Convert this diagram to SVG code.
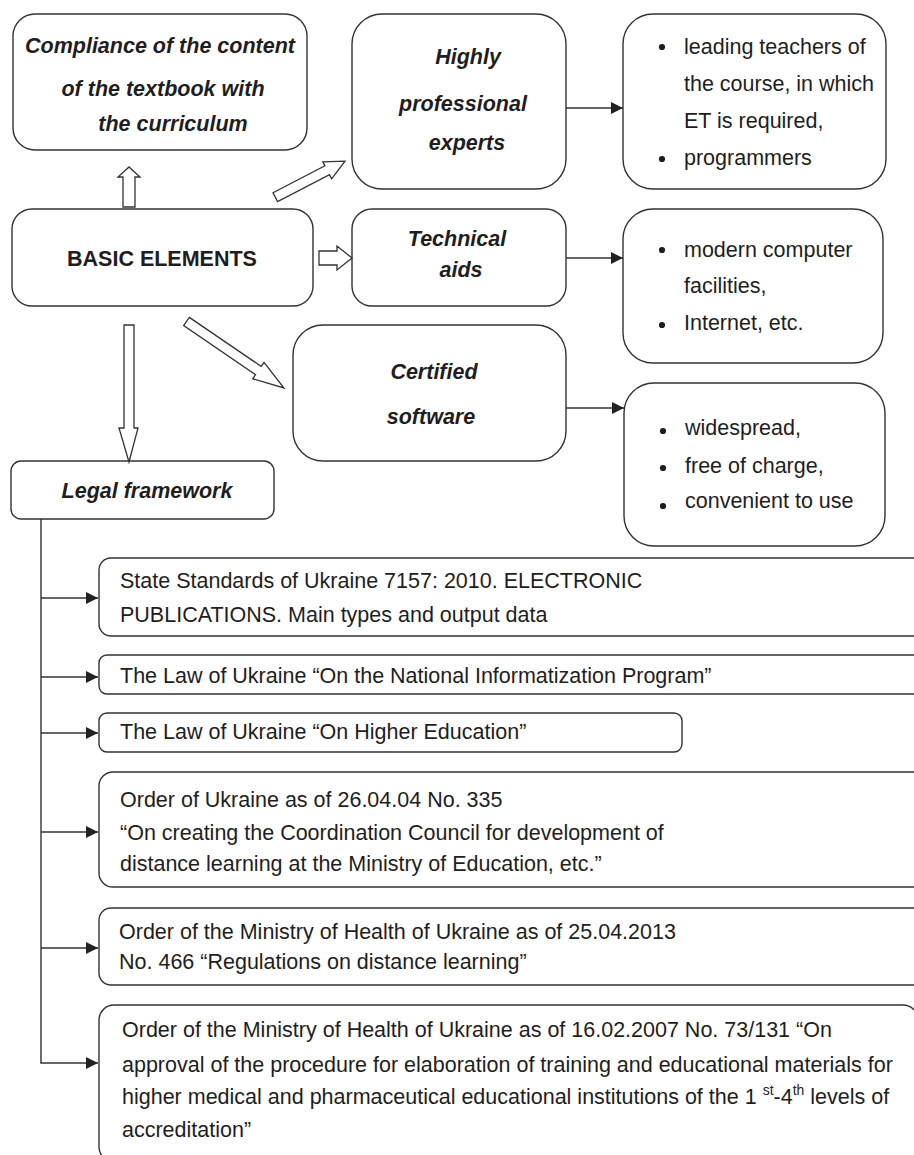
<svg xmlns="http://www.w3.org/2000/svg" width="914" height="1155" viewBox="0 0 914 1155">
<defs>
<style>
.box{fill:#fff;stroke:#333;stroke-width:1.4}
.t{font-family:"Liberation Sans",Arial,sans-serif;font-size:21.5px;fill:#1e1e1e}
.bi{font-weight:bold;font-style:italic}
.b{font-weight:bold}
.c{text-anchor:middle}
.blk{fill:#fff;stroke:#333;stroke-width:1.3;stroke-linejoin:miter}
.ln{fill:none;stroke:#333;stroke-width:1.4}
.dot{fill:#1e1e1e}
</style>
<marker id="ah" viewBox="0 0 12 12" refX="12" refY="6" markerWidth="12" markerHeight="12" markerUnits="userSpaceOnUse" orient="auto">
<path d="M0,0 L12,6 L0,12 Z" fill="#222"/>
</marker>
</defs>
<rect width="914" height="1155" fill="#fff"/>

<g id="compliance">
<rect class="box" x="13" y="14" width="294" height="136" rx="22"/>
<text class="t bi c" x="160" y="53">Compliance of the content</text>
<text class="t bi c" x="163" y="96">of the textbook with</text>
<text class="t bi c" x="173" y="131">the curriculum</text>
</g>

<g id="experts">
<rect class="box" x="352" y="14" width="214" height="175" rx="30"/>
<text class="t bi c" x="468" y="64">Highly</text>
<text class="t bi c" x="463" y="111">professional</text>
<text class="t bi c" x="467" y="150">experts</text>
</g>

<g id="experts-list">
<rect class="box" x="623" y="14" width="263" height="175" rx="30"/>
<circle class="dot" cx="662" cy="47" r="3.1"/>
<text class="t" x="684" y="54">leading teachers of</text>
<text class="t" x="684" y="91">the course, in which</text>
<text class="t" x="684" y="128">ET is required,</text>
<circle class="dot" cx="662" cy="159" r="3.1"/>
<text class="t" x="684" y="165">programmers</text>
</g>

<g id="basic">
<rect class="box" x="12" y="209" width="301" height="97" rx="20"/>
<text class="t b c" x="162" y="266">BASIC ELEMENTS</text>
</g>

<g id="technical">
<rect class="box" x="352" y="209" width="214" height="97" rx="20"/>
<text class="t bi c" x="457" y="246">Technical</text>
<text class="t bi c" x="461" y="277">aids</text>
</g>

<g id="technical-list">
<rect class="box" x="623" y="209" width="260" height="154" rx="30"/>
<circle class="dot" cx="662" cy="250" r="3.1"/>
<text class="t" x="684" y="257">modern computer</text>
<text class="t" x="684" y="293">facilities,</text>
<circle class="dot" cx="662" cy="325" r="3.1"/>
<text class="t" x="684" y="330">Internet, etc.</text>
</g>

<g id="software">
<rect class="box" x="293" y="325" width="273" height="136" rx="30"/>
<text class="t bi c" x="434" y="379">Certified</text>
<text class="t bi c" x="431" y="424">software</text>
</g>

<g id="software-list">
<rect class="box" x="624" y="383" width="261" height="163" rx="30"/>
<circle class="dot" cx="663" cy="431" r="3.1"/>
<text class="t" x="685" y="435">widespread,</text>
<circle class="dot" cx="663" cy="468" r="3.1"/>
<text class="t" x="685" y="473">free of charge,</text>
<circle class="dot" cx="663" cy="506" r="3.1"/>
<text class="t" x="685" y="508">convenient to use</text>
</g>

<g id="legal">
<rect class="box" x="11" y="461" width="263" height="58" rx="10"/>
<text class="t bi c" x="147" y="498">Legal framework</text>
</g>

<g id="doc1">
<rect class="box" x="99" y="558" width="860" height="78" rx="12"/>
<text class="t" x="120" y="588">State Standards of Ukraine 7157: 2010. ELECTRONIC</text>
<text class="t" x="120" y="622">PUBLICATIONS. Main types and output data</text>
</g>

<g id="doc2">
<rect class="box" x="99" y="655" width="860" height="39" rx="8"/>
<text class="t" x="120" y="683">The Law of Ukraine “On the National Informatization Program”</text>
</g>

<g id="doc3">
<rect class="box" x="99" y="713" width="583" height="39" rx="8"/>
<text class="t" x="120" y="739">The Law of Ukraine “On Higher Education”</text>
</g>

<g id="doc4">
<rect class="box" x="99" y="772" width="860" height="115" rx="14"/>
<text class="t" x="120" y="807">Order of Ukraine as of 26.04.04 No. 335</text>
<text class="t" x="120" y="840">“On creating the Coordination Council for development of</text>
<text class="t" x="120" y="871">distance learning at the Ministry of Education, etc.”</text>
</g>

<g id="doc5">
<rect class="box" x="99" y="908" width="860" height="77" rx="12"/>
<text class="t" x="119" y="939">Order of the Ministry of Health of Ukraine as of 25.04.2013</text>
<text class="t" x="119" y="969">No. 466 “Regulations on distance learning”</text>
</g>

<g id="doc6">
<rect class="box" x="99" y="1005" width="819" height="157" rx="15"/>
<text class="t" x="122" y="1037">Order of the Ministry of Health of Ukraine as of 16.02.2007 No. 73/131 “On</text>
<text class="t" x="122" y="1072">approval of the procedure for elaboration of training and educational materials for</text>
<text class="t" x="122" y="1104">higher medical and pharmaceutical educational institutions of the 1  <tspan font-size="14" dy="-9">st</tspan><tspan dy="9">-4</tspan><tspan font-size="14" dy="-9">th</tspan><tspan dy="9"> levels of</tspan></text>
<text class="t" x="122" y="1137">accreditation”</text>
</g>

<g id="connectors">
<path class="blk" d="M123,207 L123,177 L118,177 L129,167 L140,177 L135,177 L135,207 Z"/>
<path class="blk" transform="translate(275.3,197.2) rotate(-27.4)" d="M0,-5 L58.5,-5 L58.5,-9.6 L78.5,0 L58.5,9.6 L58.5,5 L0,5 Z"/>
<path class="blk" d="M319,251 L337,251 L337,246 L352,258 L337,270 L337,265 L319,265 Z"/>
<path class="blk" d="M124,325 L124,428 L119,428 L129,462 L138,428 L134,428 L134,325 Z"/>
<path class="blk" transform="translate(186.5,321.5) rotate(34.3)" d="M0,-5 L87,-5 L87,-10 L118,0 L87,10 L87,5 L0,5 Z"/>
<line class="ln" x1="566" y1="108" x2="623" y2="108" marker-end="url(#ah)"/>
<line class="ln" x1="566" y1="258" x2="623" y2="258" marker-end="url(#ah)"/>
<line class="ln" x1="566" y1="408" x2="624" y2="408" marker-end="url(#ah)"/>
<path class="ln" d="M41,519 L41,1063"/>
<line class="ln" x1="41" y1="598" x2="98" y2="598" marker-end="url(#ah)"/>
<line class="ln" x1="41" y1="677" x2="98" y2="677" marker-end="url(#ah)"/>
<line class="ln" x1="41" y1="733" x2="98" y2="733" marker-end="url(#ah)"/>
<line class="ln" x1="41" y1="832" x2="98" y2="832" marker-end="url(#ah)"/>
<line class="ln" x1="41" y1="948" x2="98" y2="948" marker-end="url(#ah)"/>
<line class="ln" x1="40.3" y1="1063" x2="98" y2="1063" marker-end="url(#ah)"/>
</g>
</svg>
